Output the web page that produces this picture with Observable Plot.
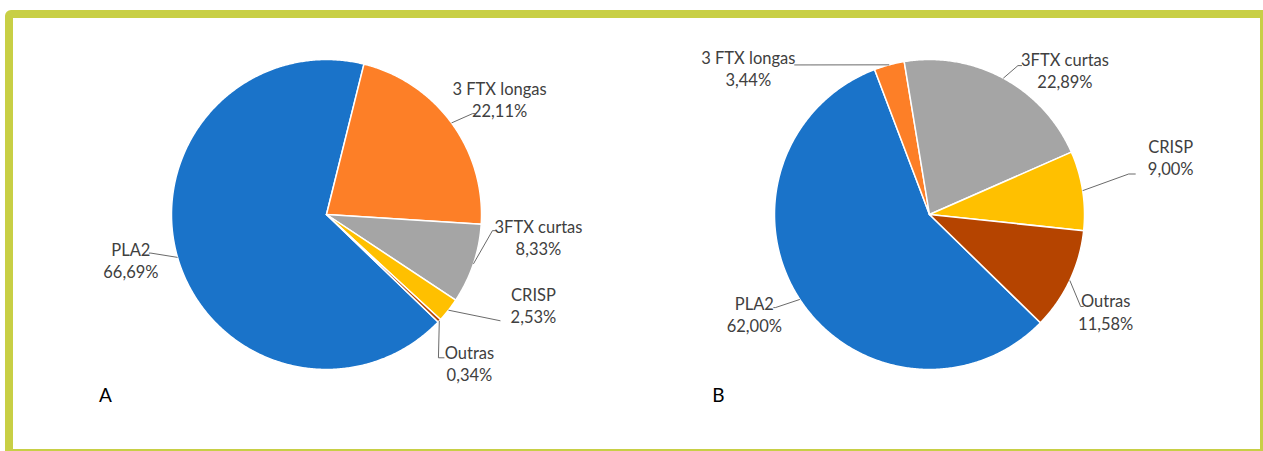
<!DOCTYPE html>
<html><head><meta charset="utf-8">
<script src="https://cdn.jsdelivr.net/npm/d3@7"></script>
<script src="https://cdn.jsdelivr.net/npm/@observablehq/plot@0.6"></script>
<style>
html,body{margin:0;padding:0;background:#fff;overflow:hidden;width:1263px;height:451px}
#frame{position:absolute;left:5px;top:10px;width:1247px;height:431px;border:8px solid #c8cf45;border-radius:6px 0 0 0;box-sizing:content-box}
#chart{position:absolute;left:0;top:0}
</style></head><body><div id="frame"></div><div id="chart"></div>
<script>
// ---- data ----
const categories = ["PLA2", "3 FTX longas", "3FTX curtas", "CRISP", "Outras"];
const valuesA = [66.69, 22.11, 8.33, 2.53, 0.34];
const valuesB = [62.00, 3.44, 22.89, 9.00, 11.58];
const panelLabels = ["A", "B"];
const sliceColors = ["#1a73c9", "#fd7f27", "#a5a5a5", "#ffc000", "#b54400"];

// ---- layout (positions/styles only) ----
const layout = {
  width: 1263, height: 451, radius: 155, labelRadius: 1.32,
  font: "Lato, 'Open Sans', sans-serif",
  pies: [
    {cx: 326, cy: 214, start: 133.9, panel: [105, 395],
     // [nudgeX, nudgeY, leaderEndX, leaderEndY, stub] per category
     labels: [[1, -11, 20, -7, -2], [8, 5, -27, 15, 3], [18, -43, -46, -6, 4], [46, -36, -33, 16, 0], [-6, 8, -31, -5, 6]]},
    {cx: 929, cy: 214, start: 134.3, panel: [718, 395],
     labels: [[-4, -13, 21, -6, -2], [-128, 51, 46, -3, 0], [38, 35, -47, -4, 4], [39, -26, -42, 17, 7], [-9, 10, -25, -5, 3]]}
  ]
};

const series = [valuesA, valuesB];
const fmt = v => d3.format(".2f")(v).replace(".", ",") + "%";
const toRad = d => d * Math.PI / 180;
const R = layout.radius;
const marks = [];

layout.pies.forEach((pie, pi) => {
  const values = series[pi];
  const a0 = toRad(pie.start);
  const arcs = d3.pie().sort(null).value(d => d).startAngle(a0).endAngle(a0 + 2 * Math.PI)(values);
  const pt = (a, r) => ({x: pie.cx + r * Math.sin(a), y: pie.cy - r * Math.cos(a)});
  arcs.forEach((arc, i) => {
    const pts = [pt(0, 0)];
    const span = arc.endAngle - arc.startAngle;
    const n = Math.max(2, Math.ceil(span / toRad(0.5)));
    for (let k = 0; k <= n; k++) pts.push(pt(arc.startAngle + span * k / n, R));
    pts.push(pt(0, 0));
    marks.push(Plot.line(pts, {x: "x", y: "y", fill: sliceColors[i], stroke: "#ffffff", strokeWidth: 1.5, strokeLinejoin: "round"}));
  });
  const labels = arcs.map((arc, i) => {
    const m = (arc.startAngle + arc.endAngle) / 2;
    const a = pt(m, R * layout.labelRadius);
    const [ndx, ndy, ex, ey, stub] = pie.labels[i];
    const c = {x: a.x + ndx, y: a.y + ndy};
    return {x: c.x, y: c.y, text: categories[i] + "\n" + fmt(values[i]), start: pt(m, R), end: {x: c.x + ex, y: c.y + ey}, stub};
  });
  const leaderPts = labels.flatMap((l, i) => [
    {id: i, x: l.start.x, y: l.start.y},
    {id: i, x: l.end.x, y: l.end.y},
    {id: i, x: l.end.x + l.stub, y: l.end.y}
  ]);
  marks.push(Plot.line(leaderPts, {x: "x", y: "y", z: "id", stroke: "#595959", strokeWidth: 0.9, strokeLinecap: "butt"}));
  marks.push(Plot.text(labels, {x: "x", y: "y", text: "text", fontSize: 16.5, lineHeight: 1.35, fill: "#404040", fontFamily: layout.font, lineAnchor: "middle"}));
  marks.push(Plot.text([panelLabels[pi]], {x: pie.panel[0], y: pie.panel[1], text: d => d, fontSize: 19, fill: "#000", fontFamily: layout.font}));
});

const chart = Plot.plot({
  width: layout.width, height: layout.height, margin: 0,
  x: {domain: [0, layout.width], range: [0, layout.width], axis: null},
  y: {domain: [0, layout.height], range: [0, layout.height], axis: null},
  style: {background: "transparent", fontFamily: layout.font},
  marks
});
document.getElementById("chart").appendChild(chart);
</script></body></html>
